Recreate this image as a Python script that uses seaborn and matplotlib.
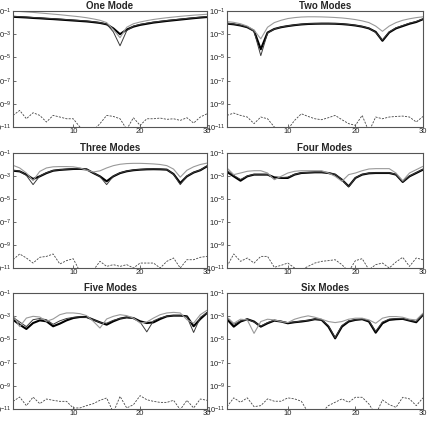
import numpy as np
import pandas as pd
import matplotlib
matplotlib.use("Agg")
import matplotlib.pyplot as plt
import seaborn as sns

x_vals = list(range(1, 31))
titles = ["One Mode", "Two Modes", "Three Modes", "Four Modes", "Five Modes", "Six Modes"]

# values stored as log10 exponents
one_thick = [-1.5,-1.53,-1.56,-1.6,-1.63,-1.67,-1.7,-1.74,-1.78,-1.82,-1.86,-1.9,-1.96,-2.03,-2.15,-2.5,-3.0,-2.6,-2.35,-2.2,-2.1,-2.0,-1.93,-1.86,-1.8,-1.74,-1.68,-1.62,-1.57,-1.52]
one_thin = [-1.46,-1.49,-1.52,-1.56,-1.59,-1.63,-1.66,-1.7,-1.74,-1.78,-1.82,-1.86,-1.92,-2.0,-2.12,-2.8,-4.0,-2.7,-2.3,-2.15,-2.05,-1.96,-1.89,-1.82,-1.76,-1.7,-1.64,-1.58,-1.53,-1.48]
one_gray = [-1.0,-1.04,-1.08,-1.12,-1.17,-1.22,-1.27,-1.32,-1.38,-1.44,-1.5,-1.58,-1.68,-1.8,-2.0,-2.6,-3.3,-2.4,-2.1,-1.95,-1.83,-1.73,-1.65,-1.58,-1.52,-1.46,-1.41,-1.36,-1.32,-1.28]
one_dash = [-10.0,-9.57,-10.29,-9.77,-10.0,-10.57,-10.0,-10.14,-10.29,-10.29,-11.0,-11.4,-11.3,-10.71,-10.0,-10.09,-10.29,-11.2,-10.2,-10.86,-10.29,-10.29,-10.23,-10.34,-10.29,-10.43,-10.2,-10.66,-10.14,-9.86]

two_thick = [-2.09,-2.15,-2.25,-2.4,-2.71,-4.3,-2.86,-2.55,-2.4,-2.3,-2.22,-2.16,-2.12,-2.1,-2.09,-2.09,-2.1,-2.13,-2.18,-2.25,-2.35,-2.5,-2.8,-3.57,-2.85,-2.5,-2.3,-2.1,-1.95,-1.71]
two_thin = [-2.05,-2.12,-2.22,-2.38,-2.75,-4.85,-2.9,-2.55,-2.38,-2.28,-2.2,-2.14,-2.1,-2.08,-2.07,-2.07,-2.08,-2.11,-2.16,-2.23,-2.33,-2.48,-2.85,-3.5,-2.8,-2.45,-2.25,-2.05,-1.9,-1.68]
two_gray = [-1.91,-1.98,-2.1,-2.3,-2.65,-3.4,-2.4,-2.0,-1.8,-1.65,-1.57,-1.52,-1.5,-1.5,-1.51,-1.53,-1.56,-1.6,-1.66,-1.74,-1.85,-2.0,-2.3,-2.75,-2.3,-2.0,-1.8,-1.67,-1.57,-1.5]
two_dash = [-10.0,-9.8,-10.0,-10.14,-10.71,-10.14,-10.29,-11.0,-11.3,-11.2,-10.43,-9.86,-10.09,-10.29,-10.37,-10.2,-10.0,-10.37,-10.71,-10.86,-10.0,-11.4,-10.14,-10.29,-10.14,-10.09,-10.06,-10.14,-10.57,-10.09]

three_thick = [-2.54,-2.6,-2.88,-3.26,-3.03,-2.75,-2.54,-2.47,-2.43,-2.39,-2.38,-2.42,-2.74,-3.03,-3.46,-3.03,-2.75,-2.59,-2.5,-2.45,-2.42,-2.41,-2.42,-2.45,-2.83,-3.61,-3.03,-2.7,-2.5,-2.16]
three_thin = [-2.5,-2.58,-2.95,-3.75,-3.0,-2.72,-2.52,-2.45,-2.41,-2.37,-2.36,-2.4,-2.72,-3.05,-3.75,-3.0,-2.72,-2.57,-2.48,-2.43,-2.4,-2.39,-2.4,-2.43,-2.85,-3.75,-3.0,-2.68,-2.48,-2.12]
three_gray = [-2.07,-2.3,-2.74,-3.4,-2.6,-2.3,-2.2,-2.18,-2.18,-2.2,-2.3,-2.5,-2.65,-2.55,-2.3,-2.1,-1.98,-1.92,-1.9,-1.9,-1.92,-1.95,-2.0,-2.1,-2.4,-3.1,-2.5,-2.2,-2.0,-1.88]
three_dash = [-10.28,-9.78,-10.13,-10.57,-10.07,-9.99,-9.78,-10.65,-10.36,-10.19,-11.3,-11.5,-11.2,-10.42,-10.86,-10.71,-10.86,-10.71,-11.0,-10.57,-10.57,-10.57,-11.0,-10.42,-10.13,-11.0,-10.28,-10.28,-10.07,-9.99]

four_thick = [-2.65,-3.03,-3.41,-3.03,-2.88,-2.88,-2.88,-3.12,-3.17,-3.17,-2.88,-2.74,-2.71,-2.68,-2.68,-2.74,-2.88,-3.32,-3.9,-3.17,-2.88,-2.77,-2.74,-2.74,-2.74,-2.88,-3.52,-3.03,-2.74,-2.45]
four_thin = [-2.5,-2.95,-3.3,-3.0,-2.86,-2.86,-2.87,-3.25,-3.15,-3.1,-2.86,-2.72,-2.69,-2.66,-2.66,-2.72,-2.86,-3.3,-3.95,-3.15,-2.86,-2.75,-2.72,-2.72,-2.72,-2.86,-3.5,-3.0,-2.7,-2.4]
four_gray = [-2.3,-2.88,-2.74,-2.59,-2.54,-2.54,-2.74,-3.32,-3.03,-2.74,-2.59,-2.54,-2.54,-2.54,-2.54,-2.74,-3.03,-3.46,-2.88,-2.74,-2.54,-2.39,-2.36,-2.36,-2.36,-2.74,-3.41,-2.74,-2.45,-2.16]
four_dash = [-10.86,-9.78,-10.42,-10.13,-10.57,-9.99,-9.99,-10.94,-10.77,-10.57,-11.0,-11.15,-10.86,-10.57,-10.42,-10.36,-10.28,-10.71,-11.3,-10.36,-10.19,-11.15,-10.71,-10.57,-11.0,-10.48,-10.07,-10.86,-10.13,-10.28]

five_thick = [-3.3,-3.73,-4.1,-3.59,-3.36,-3.44,-3.87,-3.64,-3.36,-3.16,-3.07,-3.07,-3.3,-3.53,-3.73,-3.44,-3.21,-3.1,-3.16,-3.44,-3.59,-3.53,-3.24,-3.01,-2.95,-2.95,-3.01,-3.87,-3.24,-2.72]
five_thin = [-3.1,-3.5,-3.9,-3.3,-3.2,-3.3,-3.7,-3.4,-3.2,-3.1,-3.05,-3.1,-3.3,-3.55,-3.6,-3.35,-3.2,-3.12,-3.2,-3.5,-4.35,-3.4,-3.15,-3.0,-2.95,-2.96,-3.05,-4.4,-3.1,-2.7]
five_gray = [-2.87,-3.9,-3.16,-3.01,-3.07,-3.44,-3.24,-2.87,-2.72,-2.72,-2.78,-2.95,-3.44,-4.02,-3.24,-3.01,-2.87,-2.95,-3.16,-3.59,-3.5,-3.16,-2.87,-2.72,-2.67,-2.72,-3.3,-3.6,-2.87,-2.49]
five_dash = [-10.34,-9.97,-10.71,-9.97,-10.54,-10.14,-10.25,-10.34,-10.34,-10.91,-10.91,-10.71,-10.54,-10.25,-10.05,-11.3,-9.91,-10.91,-10.63,-9.85,-10.2,-10.34,-10.43,-10.43,-10.25,-11.06,-10.25,-10.91,-10.14,-10.25]

six_thick = [-3.26,-3.9,-3.46,-3.26,-3.46,-3.9,-3.61,-3.38,-3.46,-3.61,-3.52,-3.46,-3.38,-3.26,-3.32,-3.9,-4.91,-3.9,-3.46,-3.32,-3.26,-3.46,-4.42,-3.61,-3.32,-3.26,-3.23,-3.38,-3.52,-2.88]
six_thin = [-3.1,-3.7,-3.4,-3.25,-3.5,-3.85,-3.55,-3.35,-3.45,-3.55,-3.5,-3.42,-3.35,-3.25,-3.3,-3.8,-4.85,-3.8,-3.4,-3.3,-3.25,-3.4,-4.3,-3.5,-3.25,-3.2,-3.2,-3.35,-3.45,-2.85]
six_gray = [-3.09,-3.61,-3.26,-3.32,-4.48,-3.46,-3.26,-3.32,-3.46,-3.55,-3.26,-3.09,-2.97,-3.09,-3.26,-3.46,-3.55,-3.46,-3.26,-3.17,-3.17,-3.32,-3.61,-3.17,-3.03,-3.03,-3.09,-3.26,-3.32,-2.74]
six_dash = [-10.8,-10.04,-10.42,-10.04,-10.8,-10.71,-10.13,-10.33,-10.33,-10.04,-10.13,-10.33,-11.3,-11.5,-11.3,-10.71,-10.42,-10.13,-10.42,-9.99,-9.99,-10.57,-11.5,-10.22,-10.62,-10.86,-9.99,-10.13,-10.71,-10.04]

panels = [
    (one_thick, one_thin, one_gray, one_dash),
    (two_thick, two_thin, two_gray, two_dash),
    (three_thick, three_thin, three_gray, three_dash),
    (four_thick, four_thin, four_gray, four_dash),
    (five_thick, five_thin, five_gray, five_dash),
    (six_thick, six_thin, six_gray, six_dash),
]

sns.set_theme(style="ticks")
plt.rcParams['font.family'] = ['Liberation Sans', 'DejaVu Sans']
plt.rcParams['mathtext.fontset'] = 'custom'
plt.rcParams['mathtext.rm'] = 'Liberation Sans'
plt.rcParams['mathtext.it'] = 'Liberation Sans'

fig = plt.figure(figsize=(4.29, 4.21), dpi=100)

W, H = 429.0, 421.0
col_px = [(13, 207), (227, 423)]
row_px = [(11, 127), (153, 268), (293, 409)]

styles = [
    dict(color="black", lw=1.5, ls="-"),
    dict(color="#3a3a3a", lw=0.7, ls="-"),
    dict(color="#9a9a9a", lw=0.8, ls="-"),
    dict(color="#444444", lw=0.6, ls=(0, (2.5, 1.5))),
]

for i, (title, series) in enumerate(zip(titles, panels)):
    r, c = divmod(i, 2)
    x0, x1 = col_px[c]
    y0, y1 = row_px[r]
    ax = fig.add_axes([x0 / W, 1 - y1 / H, (x1 - x0) / W, (y1 - y0) / H])
    for s, st in zip(series, styles):
        df = pd.DataFrame({"x": x_vals, "y": 10.0 ** np.array(s)})
        sns.lineplot(data=df, x="x", y="y", ax=ax, color=st["color"],
                     linewidth=st["lw"], linestyle=st["ls"], legend=False)
    ax.set_yscale("log")
    ax.set_ylim(1e-11, 1e-1)
    ax.set_xlim(1, 30)
    ax.set_yticks([1e-11, 1e-9, 1e-7, 1e-5, 1e-3, 1e-1])
    ax.set_yticklabels([r"$10^{-11}$", r"$10^{-9}$", r"$10^{-7}$", r"$10^{-5}$", r"$10^{-3}$", r"$10^{-1}$"])
    ax.minorticks_off()
    ax.set_xticks([10, 20, 30])
    ax.set_xticklabels(["10", "20", "30"])
    ax.tick_params(axis="both", direction="in", length=2, width=0.5,
                   labelsize=5.5, pad=1, colors="#333333", labelcolor="#222222")
    for sp in ax.spines.values():
        sp.set_linewidth(0.8)
        sp.set_color("#555555")
    ax.set_xlabel("")
    ax.set_ylabel("")
    ax.set_title(title, fontsize=7, fontweight="bold", pad=0.5)

fig.savefig("out.png", dpi=100)
